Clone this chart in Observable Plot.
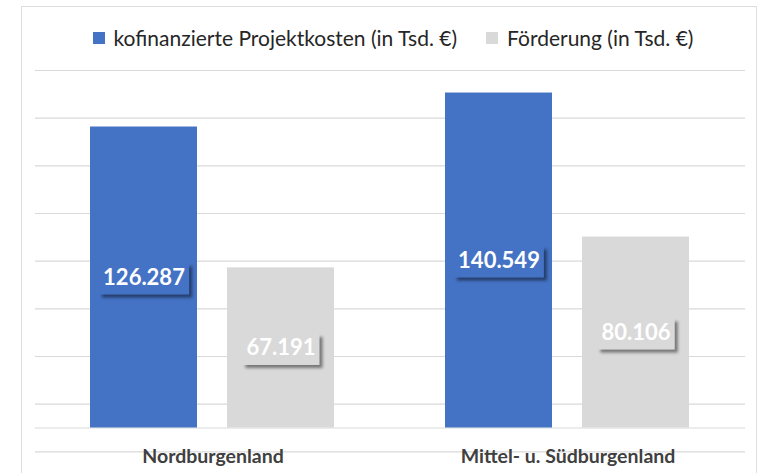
<!DOCTYPE html>
<html>
<head>
<meta charset="utf-8">
<script src="https://cdn.jsdelivr.net/npm/d3@7"></script>
<script src="https://cdn.jsdelivr.net/npm/@observablehq/plot@0.6"></script>
<style>
  body { margin: 0; background: #fff; }
  #wrap { position: relative; width: 760px; height: 473px; overflow: hidden; font-family: Lato, "Open Sans", sans-serif; background: #fff; }
  #frame { position: absolute; left: 21px; top: 6px; width: 736px; height: 520px; border: 1.5px solid #dedede; box-sizing: border-box; pointer-events: none; }
  #legend { position: absolute; top: 24px; left: 0; width: 786px; display: flex; justify-content: center; gap: 29px; font-size: 21px; color: #262626; line-height: 28px; }
  #legend .item { display: flex; align-items: center; }
  #legend .sw { display: inline-block; width: 12px; height: 12px; margin-right: 9px; }
  #wrap svg { position: absolute; left: 0; top: 0; overflow: visible; }
  g[aria-label="fx-axis tick label"] text { font-family: Lato, sans-serif; font-size: 19.5px; font-weight: bold; fill: #404040; }
</style>
</head>
<body>
<div id="wrap">
  <div id="legend"></div>
  <div id="frame"></div>
</div>
<script>
// ---- data (values in Tsd. €) ----
const regions = ["Nordburgenland", "Mittel- u. Südburgenland"];
const seriesNames = ["kofinanzierte Projektkosten (in Tsd. €)", "Förderung (in Tsd. €)"];
const kosten = [126287, 140549];
const foerderung = [67191, 80106];
const seriesColors = ["#4472C4", "#D9D9D9"];
const gridValues = [-10000, 10000, 30000, 50000, 70000, 90000, 110000, 130000, 150000];

const data = regions.flatMap((r, i) => [
  { region: r, series: seriesNames[0], value: kosten[i] },
  { region: r, series: seriesNames[1], value: foerderung[i] }
]);

const fmt = d3.formatLocale({ decimal: ",", thousands: ".", grouping: [3], currency: ["", "€"] }).format(",d");

// legend
const legend = document.getElementById("legend");
seriesNames.forEach((s, i) => {
  const item = document.createElement("div");
  item.className = "item";
  const sw = document.createElement("span");
  sw.className = "sw";
  sw.style.background = seriesColors[i];
  const tx = document.createElement("span");
  tx.textContent = s;
  item.appendChild(sw);
  item.appendChild(tx);
  legend.appendChild(item);
});

const chart = Plot.plot({
  width: 760,
  height: 473,
  marginTop: 70,
  marginBottom: 45.5,
  marginLeft: 35,
  marginRight: 15,
  style: { background: "transparent", fontFamily: "Lato, sans-serif" },
  fx: { domain: regions, padding: 0, label: null },
  x: { domain: seriesNames, paddingInner: 0.217, paddingOuter: 0.395, axis: null },
  y: { domain: [0, 150000], axis: null },
  color: { domain: seriesNames, range: seriesColors },
  marks: [
    Plot.ruleY(gridValues, { stroke: "#d9d9d9", strokeWidth: 1.2 }),
    Plot.ruleY([0], { stroke: "#d9d9d9", strokeWidth: 1.2 }),
    Plot.barY(data, { fx: "region", x: "series", y: "value", fill: "series" }),
    Plot.text(data, {
      fx: "region", x: "series", y: d => d.value / 2,
      text: d => fmt(d.value),
      fill: "white", fontSize: 22, fontWeight: "bold"
    }),
    Plot.axisFx({ anchor: "bottom", tickSize: 0, tickPadding: 21, label: null })
  ]
});

document.getElementById("wrap").insertBefore(chart, document.getElementById("legend"));

// label boxes with shadow, coloured like their bar
const ns = "http://www.w3.org/2000/svg";
const bars = Array.from(chart.querySelectorAll('g[aria-label="bar"] rect'));
chart.querySelectorAll('g[aria-label="text"] text').forEach(t => {
  const bb = t.getBBox();
  const cr = t.getBoundingClientRect();
  const cx = cr.x + cr.width / 2;
  const bar = bars.find(r => {
    const b = r.getBoundingClientRect();
    return cx >= b.x && cx <= b.x + b.width;
  });
  const rect = document.createElementNS(ns, "rect");
  rect.setAttribute("x", bb.x - 4);
  rect.setAttribute("y", bb.y + 1);
  rect.setAttribute("width", bb.width + 8);
  rect.setAttribute("height", bb.height + 4);
  rect.setAttribute("fill", bar ? bar.getAttribute("fill") : "#999");
  rect.style.filter = "drop-shadow(3px 3px 1.5px rgba(0,0,0,0.45))";
  if (t.getAttribute("transform")) rect.setAttribute("transform", t.getAttribute("transform"));
  t.parentNode.insertBefore(rect, t);
});
</script>
</body>
</html>
